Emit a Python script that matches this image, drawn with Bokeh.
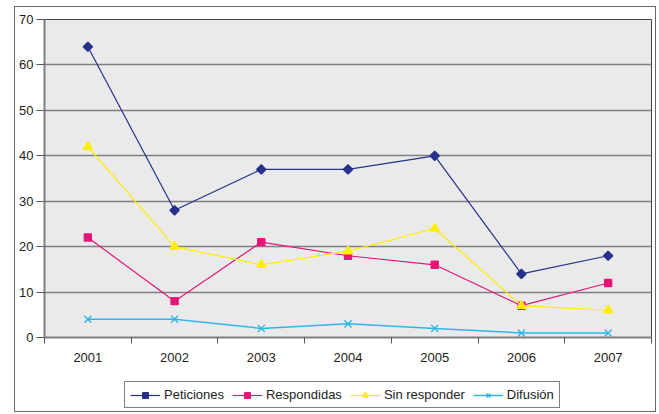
import math
from bokeh.plotting import figure
from bokeh.layouts import column
from bokeh.models import FixedTicker, Legend, LegendItem, Range1d
from bokeh.embed import file_html
from bokeh.resources import INLINE

years = ["2001", "2002", "2003", "2004", "2005", "2006", "2007"]
peticiones = [64, 28, 37, 37, 40, 14, 18]
respondidas = [22, 8, 21, 18, 16, 7, 12]
sin_responder = [42, 20, 16, 19, 24, 7, 6]
difusion = [4, 4, 2, 3, 2, 1, 1]
y_ticks = [0, 10, 20, 30, 40, 50, 60, 70]

xs = list(range(len(years)))
FONT = "Liberation Sans"

p = figure(width=640, height=360, output_backend="svg", toolbar_location=None,
           x_range=Range1d(-0.5, len(years) - 0.5), y_range=Range1d(0, 70),
           min_border_left=29, min_border_right=4, min_border_top=12, min_border_bottom=30,
           background_fill_color="#EAEAEA", border_fill_color="white")
p.outline_line_color = "#444444"
p.outline_line_width = 1

series = [
    ("Peticiones", peticiones, "#27318B", "square", 6.5, math.pi / 4, 1.2),
    ("Respondidas", respondidas, "#E5157A", "square", 7, 0, 1.2),
    ("Sin responder", sin_responder, "#FFEE00", "triangle", 9, 0, 1.2),
    ("Difusión", difusion, "#2EB6E8", "x", 10, 0, 1.5),
]

# legend-only figure: same series, drawn outside its visible range
lg = figure(width=640, height=44, output_backend="svg", toolbar_location=None,
            x_range=Range1d(0, 1), y_range=Range1d(-2, -1),
            x_axis_location=None, y_axis_location=None,
            min_border_left=0, min_border_right=0, min_border_top=0, min_border_bottom=0,
            background_fill_color="white", border_fill_color="white")
lg.outline_line_color = None
lg.grid.visible = False

items = []
for name, vals, col, mk, sz, ang, lw in series:
    p.line(xs, vals, line_color=col, line_width=lw)
    p.scatter(xs, vals, marker=mk, size=sz, angle=ang, fill_color=col, line_color=col, line_width=1.4)
    r1 = lg.line(xs, vals, line_color=col, line_width=lw)
    r2 = lg.scatter(xs, vals, marker=mk, size=sz, angle=ang, fill_color=col, line_color=col, line_width=1.4)
    items.append(LegendItem(label=name, renderers=[r1, r2]))

p.xgrid.grid_line_color = None
p.ygrid.grid_line_color = "#808080"
p.ygrid.grid_line_width = 1.5
p.ygrid.ticker = FixedTicker(ticks=y_ticks)

p.yaxis.ticker = FixedTicker(ticks=y_ticks)
p.yaxis.axis_line_color = "#808080"
p.yaxis.axis_line_width = 2
p.yaxis.major_tick_line_color = "#555555"
p.yaxis.major_tick_out = 8
p.yaxis.major_tick_in = 0
p.yaxis.minor_tick_line_color = None
p.yaxis.major_label_text_font = FONT
p.yaxis.major_label_text_font_size = "13px"
p.yaxis.major_label_text_color = "#222222"
p.yaxis.major_label_standoff = 3

p.xaxis.ticker = FixedTicker(ticks=xs, minor_ticks=[i - 0.5 for i in range(len(years) + 1)])
p.xaxis.major_label_overrides = {i: y for i, y in enumerate(years)}
p.xaxis.axis_line_color = "#808080"
p.xaxis.axis_line_width = 2
p.xaxis.major_tick_line_color = None
p.xaxis.minor_tick_line_color = "#555555"
p.xaxis.minor_tick_out = 6
p.xaxis.minor_tick_in = 0
p.xaxis.major_label_text_font = FONT
p.xaxis.major_label_text_font_size = "13px"
p.xaxis.major_label_text_color = "#222222"
p.xaxis.major_label_standoff = 9

legend = Legend(items=items, orientation="horizontal", location=(80, 3),
                label_text_font=FONT, label_text_font_size="13px", label_text_color="#222222",
                glyph_width=30, glyph_height=14, label_standoff=4, spacing=8, padding=5,
                margin=0, border_line_color="black", border_line_width=1,
                background_fill_color="white", background_fill_alpha=1.0)
lg.add_layout(legend)

layout = column(p, lg, spacing=0, margin=(6, 0, 0, 14),
                styles={"border": "1px solid #666666"})

open("out.html", "w").write(file_html(layout, INLINE))
